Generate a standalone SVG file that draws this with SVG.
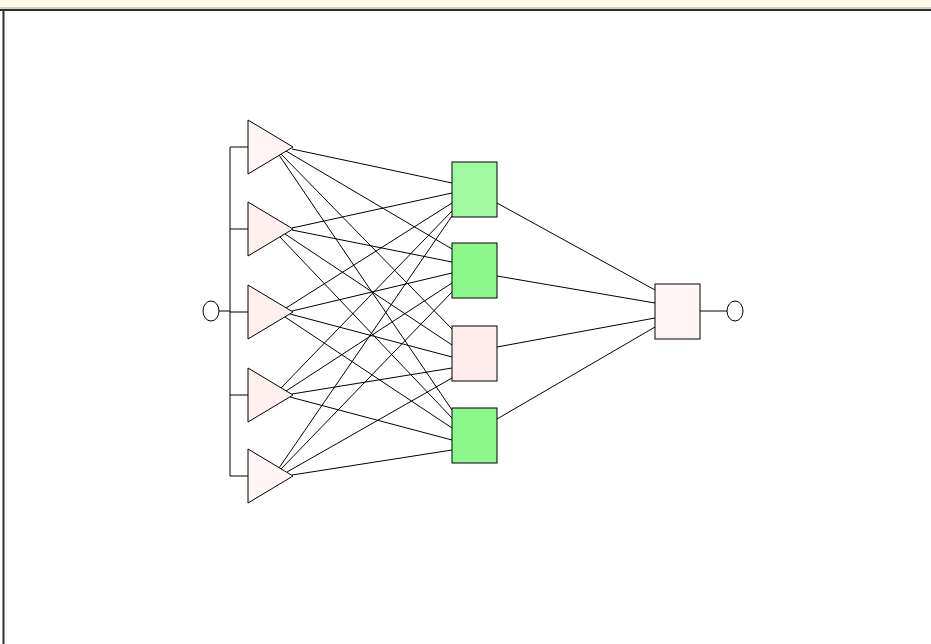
<svg xmlns="http://www.w3.org/2000/svg" width="931" height="644" viewBox="0 0 931 644">
<style>
.w{stroke:#000;stroke-width:1;fill:none}
.tri{fill:#fff0f0;stroke:#000;stroke-width:1}
.box{stroke:#000;stroke-width:1}
.io{fill:#fff;stroke:#000;stroke-width:1}
</style>
<rect x="0" y="0" width="931" height="644" fill="#fff"/>
<g id="frame">
<rect x="0" y="0" width="931" height="8" fill="#fff8e8"/>
<line x1="0" y1="8" x2="931" y2="8" stroke="#a8a898" stroke-width="1"/>
<line x1="0" y1="10" x2="931" y2="10" stroke="#303030" stroke-width="2"/>
<line x1="3.5" y1="10" x2="3.5" y2="644" stroke="#303030" stroke-width="2"/>
</g>
<g id="connectors" class="w">
<path d="M219,311H230M230,147V476M230,147H248M230,229H248M230,312H248M230,395H248M230,476H248"/>
<path d="M292,149L452,183M286,151L452,249M281,154L452,329M279,155L452,410"/>
<path d="M292,228L452,193M292,230L452,262M285,234L452,345M280,237L452,418"/>
<path d="M286,308L452,203M292,311L452,273M290,314L452,357M285,317L452,428"/>
<path d="M281,388L452,211M286,391L452,283M292,394L452,368M290,397L452,440"/>
<path d="M279,468L452,216M281,469L452,292M287,472L452,378M292,475L452,450"/>
<path d="M497,203L655,290M497,276L655,303M497,347L655,318M497,419L655,327"/>
<path d="M700,311H727"/>
</g>
<g id="input"><ellipse class="io" cx="211" cy="311" rx="8" ry="10"/></g>
<g id="in1"><polygon class="tri" style="fill:#fff5f5" points="248,120 293,147 248,174"/></g>
<g id="in2"><polygon class="tri" points="248,202 293,229 248,256"/></g>
<g id="in3"><polygon class="tri" points="248,285 293,312 248,339"/></g>
<g id="in4"><polygon class="tri" points="248,368 293,395 248,422"/></g>
<g id="in5"><polygon class="tri" style="fill:#fff5f5" points="248,449 293,476 248,503"/></g>
<g id="h1"><rect class="box" x="452" y="162" width="45" height="55" fill="#a0f8a0"/></g>
<g id="h2"><rect class="box" x="452" y="243" width="45" height="55" fill="#8cf88c"/></g>
<g id="h3"><rect class="box" x="452" y="326" width="45" height="55" fill="#ffecec"/></g>
<g id="h4"><rect class="box" x="452" y="408" width="45" height="55" fill="#8cf88c"/></g>
<g id="out"><rect class="box" x="655" y="284" width="45" height="55" fill="#fff5f5"/></g>
<g id="output"><ellipse class="io" cx="735" cy="311" rx="8" ry="10"/></g>
</svg>
